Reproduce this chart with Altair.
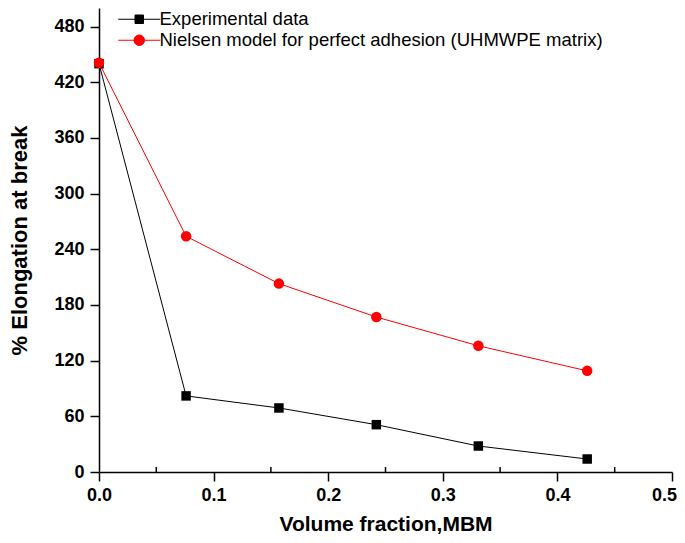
import altair as alt
import pandas as pd

# ---- data ----
vol_fraction = [0.0, 0.076, 0.157, 0.242, 0.331, 0.426]
experimental = [440, 82, 69, 51, 28, 14]
nielsen = [441, 254, 203, 167, 136, 109]
series_names = ["Experimental data", "Nielsen model for perfect adhesion (UHMWPE matrix)"]

x_major_ticks = [0.0, 0.1, 0.2, 0.3, 0.4, 0.5]
x_minor_ticks = [0.05, 0.15, 0.25, 0.35, 0.45]
y_ticks = list(range(0, 481, 30))

rows = []
for xv, yv in zip(vol_fraction, experimental):
    rows.append({"x": xv, "y": yv, "series": series_names[0], "order": 0})
for xv, yv in zip(vol_fraction, nielsen):
    rows.append({"x": xv, "y": yv, "series": series_names[1], "order": 1})
df = pd.DataFrame(rows)
minor_df = pd.DataFrame({"x": x_minor_ticks})

FONT = "Liberation Sans, Arial, Helvetica, sans-serif"
W, H = 573, 464

xscale = alt.Scale(domain=[0, 0.5], nice=False, zero=False)
yscale = alt.Scale(domain=[0, 500], nice=False)
color_scale = alt.Scale(domain=series_names, range=["black", "red"])

x_enc = alt.X(
    "x:Q", scale=xscale,
    axis=alt.Axis(
        values=x_major_ticks, format=".1f", title="Volume fraction,MBM",
        tickSize=9, tickWidth=1.5, domainWidth=1.5, domainColor="black", tickColor="black",
        labelFont=FONT, labelFontSize=18, labelFontWeight="bold", labelColor="black",
        labelPadding=5, labelFlush=False,
        labelOffset={"condition": {"test": "datum.value >= 0.45", "value": -8}, "value": 0},
        titleFont=FONT, titleFontSize=21, titleFontWeight="bold", titleColor="black",
        titlePadding=9, grid=False,
    ),
)
y_enc = alt.Y(
    "y:Q", scale=yscale,
    axis=alt.Axis(
        values=y_ticks, title="% Elongation at break",
        labelExpr="datum.value % 60 === 0 ? datum.label : ''",
        tickSize={"condition": {"test": "datum.value % 60 === 0", "value": 9}, "value": 5},
        tickWidth=1.5, domainWidth=1.5, domainColor="black", tickColor="black",
        labelFont=FONT, labelFontSize=18, labelFontWeight="bold", labelColor="black",
        labelPadding=6, labelFlush=False,
        titleFont=FONT, titleFontSize=22, titleFontWeight="bold", titleColor="black",
        titlePadding=22, grid=False,
    ),
)

# legend symbols: line - marker - line
shape_black = "M-4.2,0H-0.85M0.85,0H4.2M-0.85,-0.85H0.85V0.85H-0.85Z"
shape_red = "M-4.2,0H-1.05M1.05,0H4.2M-1.05,0A1.05,1.05,0,1,0,1.05,0A1.05,1.05,0,1,0,-1.05,0Z"
shape_scale = alt.Scale(domain=series_names, range=[shape_black, shape_red])

legend = alt.Legend(
    orient="none", legendX=20, legendY=2, title=None, padding=0,
    labelFont=FONT, labelFontSize=18.5, labelColor="black", labelLimit=600,
    symbolSize=100, symbolStrokeWidth=1, symbolOffset=11, labelOffset=11, rowPadding=2,
    symbolOpacity=1,
)

line_black = alt.Chart(df).transform_filter(
    alt.datum.series == series_names[0]
).mark_line(strokeWidth=1, color="black").encode(x=x_enc, y=y_enc, order="x:Q")
line_red = alt.Chart(df).transform_filter(
    alt.datum.series == series_names[1]
).mark_line(strokeWidth=1, color="red").encode(x="x:Q", y="y:Q", order="x:Q")

pts_black = alt.Chart(df).transform_filter(
    alt.datum.series == series_names[0]
).mark_point(filled=True, opacity=1, shape="square", size=90, color="black").encode(
    x="x:Q", y="y:Q",
)
pts_red = alt.Chart(df).transform_filter(
    alt.datum.series == series_names[1]
).mark_point(filled=True, opacity=1, shape="circle", size=110, color="red").encode(
    x="x:Q", y="y:Q",
)

legend_layer = alt.Chart(df).mark_point(
    filled=True, size=100, strokeWidth=1
).encode(
    x="x:Q", y="y:Q",
    fill=alt.Fill("series:N", scale=color_scale, legend=legend),
    stroke=alt.Stroke("series:N", scale=color_scale, legend=legend),
    shape=alt.Shape("series:N", scale=shape_scale, legend=legend),
    opacity=alt.value(0),
)

minor = alt.Chart(minor_df).mark_rule(color="black", strokeWidth=1.5).encode(
    x="x:Q", y=alt.value(H), y2=alt.value(H - 5),
)

chart = alt.layer(line_black, line_red, pts_black, pts_red, minor, legend_layer).properties(
    width=W, height=H,
    autosize=alt.AutoSizeParams(type="none"),
    padding={"left": 91, "top": 0, "right": 5, "bottom": 63},
    background="white",
).configure_view(stroke=None)

chart.save("out.html", embed_options={"renderer": "svg", "actions": False})
